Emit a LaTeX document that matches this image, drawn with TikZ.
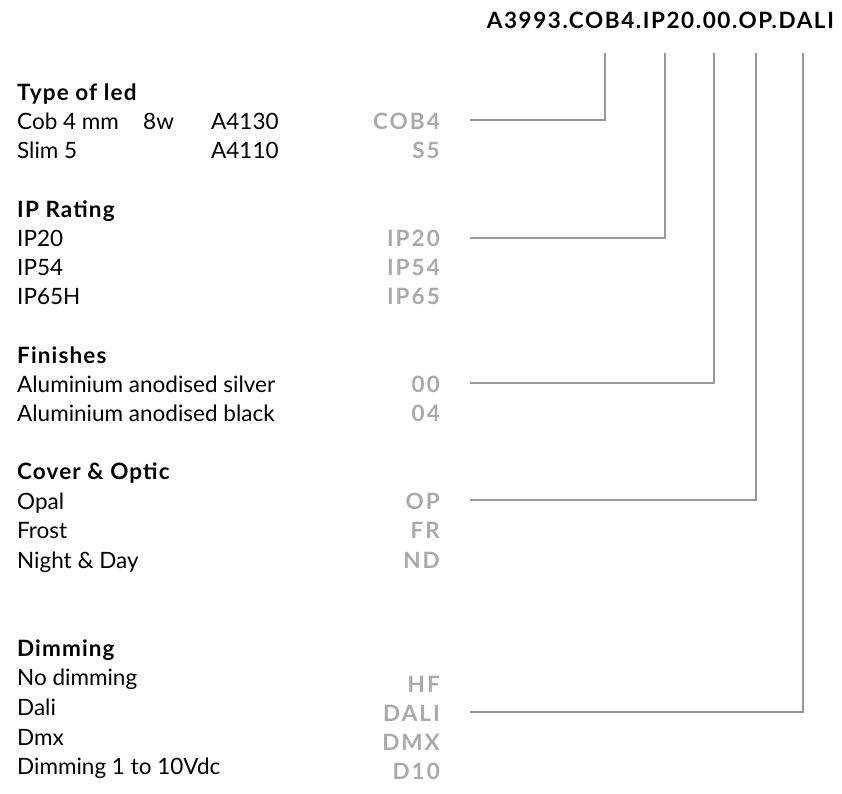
\documentclass[tikz,border=0pt]{standalone}
\usepackage{fontspec}
\setmainfont{Lato}
\usepackage{tikz}
\usetikzlibrary{positioning}
\usepackage{xcolor}
\definecolor{codegray}{HTML}{AAAAAA}
\definecolor{linkgray}{HTML}{999999}

\begin{document}
\begin{tikzpicture}[x=1pt,y=-1pt,inner sep=0pt,
    every node/.style={font=\fontsize{22.5}{26}\selectfont},
    head/.style={anchor=base west,font=\fontsize{22.5}{26}\selectfont\bfseries\addfontfeature{LetterSpace=5}},
    item/.style={anchor=base west},
    code/.style={anchor=base east,text=codegray,font=\fontsize{22.5}{26}\selectfont\bfseries\addfontfeature{LetterSpace=9}},
    link/.style={draw=linkgray,line width=2pt}]
      \useasboundingbox (0,0) rectangle (842,793);

      \node[anchor=base east,font=\fontsize{22.5}{26}\selectfont\bfseries\addfontfeature{LetterSpace=7}] (ref) at (834,28) {A3993.COB4.IP20.00.OP.DALI};

      \node[head] (hled) at (17,100) {Type of led};
      \node[item] (cob) at (17,129) {Cob 4 mm};
      \node[item] (cobw) at (143,129) {8w};
      \node[item] (cobart) at (211,129) {A4130};
      \node[item] (slim) at (17,158) {Slim 5};
      \node[item] (slimart) at (211,158) {A4110};
      \node[code] (cob4) at (440,129) {COB4};
      \node[code] (s5) at (440,158) {S5};

      \node[head] (hip) at (17,217) {IP Rating};
      \node[item] (ip20) at (17,246) {IP20};
      \node[item] (ip54) at (17,275) {IP54};
      \node[item] (ip65) at (17,304) {IP65H};
      \node[code] (cip20) at (440,246) {IP20};
      \node[code] (cip54) at (440,275) {IP54};
      \node[code] (cip65) at (440,304) {IP65};

      \node[head] (hfin) at (17,363) {Finishes};
      \node[item] (silver) at (17,392) {Aluminium anodised silver};
      \node[item] (black) at (17,421) {Aluminium anodised black};
      \node[code] (c00) at (440,392) {00};
      \node[code] (c04) at (440,421) {04};

      \node[head] (hcov) at (17,479) {Cover \& Optic};
      \node[item] (opal) at (17,509) {Opal};
      \node[item] (frost) at (17,538) {Frost};
      \node[item] (night) at (17,568) {Night \& Day};
      \node[code] (cop) at (440,509) {OP};
      \node[code] (cfr) at (440,538) {FR};
      \node[code] (cnd) at (440,568) {ND};

      \node[head] (hdim) at (17,656) {Dimming};
      \node[item] (nodim) at (17,685) {No dimming};
      \node[item] (dali) at (17,715) {Dali};
      \node[item] (dmx) at (17,745) {Dmx};
      \node[item] (dim10) at (17,774) {Dimming 1 to 10Vdc};
      \node[code] (chf) at (440,692) {HF};
      \node[code] (cdali) at (440,721) {DALI};
      \node[code] (cdmx) at (440,750) {DMX};
      \node[code] (cd10) at (440,779) {D10};

      % drops from the reference code
      \coordinate (tled) at (605,53);
      \coordinate (tip) at (665,53);
      \coordinate (tfin) at (714,53);
      \coordinate (tcov) at (756,53);
      \coordinate (tdim) at (803,53);

      \draw[link] ([xshift=30pt,yshift=9pt]cob4.base east) -| (tled);
      \draw[link] ([xshift=30pt,yshift=8pt]cip20.base east) -| (tip);
      \draw[link] ([xshift=30pt,yshift=9pt]c00.base east) -| (tfin);
      \draw[link] ([xshift=30pt,yshift=9pt]cop.base east) -| (tcov);
      \draw[link] ([xshift=30pt,yshift=9pt]cdali.base east) -| (tdim);
    \end{tikzpicture}
\end{document}
